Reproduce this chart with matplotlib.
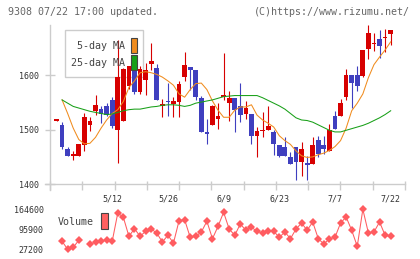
import numpy as np
import matplotlib
matplotlib.use("Agg")
import matplotlib.pyplot as plt
from matplotlib.patches import Rectangle

plt.rcParams["font.family"] = ["DejaVu Sans Mono"]

# 日足データ (index 0..60)
opens = [1517, 1509, 1465, 1451, 1451, 1471, 1509, 1535, 1538, 1544,
         1555, 1499, 1517, 1581, 1617, 1570, 1592, 1621, 1613, 1543,
         1553, 1548, 1552, 1597, 1615, 1610, 1558, 1496, 1509, 1520,
         1560, 1550, 1558, 1544, 1529, 1529, 1488, 1497, 1499, 1495,
         1471, 1468, 1449, 1468, 1440, 1439, 1437, 1482, 1472, 1460,
         1526, 1525, 1560, 1601, 1601, 1599, 1648, 1658, 1667, 1669, 1676]
highs = [1518, 1515, 1469, 1460, 1474, 1531, 1524, 1564, 1543, 1549,
         1560, 1665, 1614, 1617, 1617, 1617, 1623, 1660, 1621, 1556,
         1586, 1560, 1589, 1643, 1615, 1610, 1562, 1520, 1546, 1549,
         1641, 1572, 1558, 1587, 1553, 1529, 1505, 1532, 1544, 1500,
         1471, 1486, 1459, 1468, 1477, 1452, 1486, 1489, 1489, 1511,
         1534, 1557, 1612, 1601, 1618, 1647, 1693, 1678, 1684, 1685, 1684]
lows = [1517, 1464, 1451, 1445, 1451, 1461, 1497, 1528, 1512, 1526,
        1503, 1439, 1517, 1575, 1565, 1566, 1564, 1610, 1554, 1523,
        1526, 1524, 1523, 1589, 1574, 1555, 1495, 1474, 1509, 1502,
        1555, 1517, 1495, 1515, 1520, 1474, 1449, 1486, 1499, 1454,
        1449, 1451, 1436, 1407, 1414, 1408, 1437, 1450, 1456, 1460,
        1501, 1525, 1555, 1541, 1572, 1597, 1630, 1645, 1632, 1643, 1656]
closes = [1518, 1469, 1451, 1456, 1474, 1523, 1517, 1546, 1529, 1528,
          1507, 1597, 1612, 1617, 1570, 1612, 1611, 1627, 1554, 1548,
          1551, 1553, 1585, 1619, 1610, 1561, 1495, 1493, 1543, 1526,
          1564, 1558, 1537, 1528, 1541, 1488, 1498, 1499, 1506, 1474,
          1451, 1451, 1436, 1440, 1465, 1435, 1472, 1456, 1465, 1500,
          1501, 1549, 1601, 1587, 1581, 1647, 1678, 1660, 1655, 1671, 1684]

ma5 = [np.nan, 1555, 1530, 1503, 1482, 1474, 1475, 1486, 1503, 1518,
       1530, 1537, 1552, 1578, 1590, 1605, 1607, 1605, 1602, 1597,
       1590, 1582, 1566, 1560, 1574, 1585, 1586, 1574, 1553, 1536,
       1523, 1523, 1536, 1542, 1542, 1546, 1527, 1518, 1512, 1505,
       1489, 1480, 1473, 1461, 1452, 1449, 1450, 1454, 1457, 1462,
       1469, 1480, 1503, 1535, 1549, 1566, 1596, 1620, 1634, 1647, 1662]
ma25 = [np.nan, 1555, 1549, 1543, 1540, 1537, 1534, 1532, 1530, 1528,
        1529, 1532, 1535, 1537, 1538, 1538, 1540, 1542, 1543, 1545,
        1546, 1546, 1545, 1543, 1545, 1549, 1551, 1553, 1555, 1558,
        1561, 1562, 1563, 1563, 1563, 1563, 1563, 1559, 1554, 1549,
        1544, 1538, 1530, 1522, 1518, 1517, 1514, 1509, 1504, 1499,
        1496, 1496, 1499, 1502, 1505, 1508, 1512, 1517, 1522, 1528, 1535]

volume = [np.nan, 54700, 27200, 34100, 58100, np.nan, 45400, 51200, 54700, 60200,
          54700, 151900, 137100, 71900, 98000, 71900, 89000, 96900, 83200, 52300,
          75300, 48800, 125400, 128900, 68400, 71900, 86600, 123400, 63600, 106200,
          154300, 96900, 75300, 114100, 92500, 102800, 89000, 83200, 89000, 89000,
          68400, 86600, 63600, 96900, 117500, 92500, 121000, 63600, 45400, 63600,
          68400, 117500, 138200, 92500, 37500, 164600, 83200, 86600, 121000, 75300, 71900]

date_idx = [10, 20, 30, 40, 50, 60]
date_labels = ["5/12", "5/26", "6/9", "6/23", "7/7", "7/22"]
price_ticks = [1400, 1500, 1600]
vol_ticks = [27200, 95900, 164600]

UP = "#d70000"
DOWN = "#3f3fbf"
GRID = "#cccccc"
TXT = "#333333"

W, H = 420, 259
fig = plt.figure(figsize=(W / 100, H / 100), dpi=100)


def fx(x):
    return x / W


def fy(y):
    return 1 - y / H


# 株価
ax = fig.add_axes([fx(50), fy(190), fx(355), 165 / H])
ax.set_facecolor("none")
x = np.arange(len(closes))
o = np.array(opens)
c = np.array(closes)
colors = [UP if cc >= oo else DOWN for oo, cc in zip(o, c)]
ax.vlines(x, lows, highs, colors=colors, linewidth=0.8, zorder=2)
body_h = np.maximum(np.abs(c - o), 2)
ax.bar(x, body_h, bottom=np.minimum(o, c), width=0.85, color=colors,
       linewidth=0, zorder=2)
ax.plot(x, ma5, color="#f08c1e", linewidth=0.75, zorder=3)
ax.plot(x, ma25, color="#18a018", linewidth=0.75, zorder=3)

ax.set_xlim(-1.17, 62.57)
ax.set_ylim(1389, 1693)
for s in ["top", "right", "bottom"]:
    ax.spines[s].set_visible(False)
ax.spines["left"].set_color(GRID)
ax.spines["left"].set_linewidth(1.0)
ax.axhline(1400, xmin=-5 / 355, xmax=1, color=GRID, linewidth=1.0,
           clip_on=False, zorder=1)
ax.set_yticks(price_ticks)
ax.set_yticklabels([str(t) for t in price_ticks])
ax.tick_params(axis="y", direction="inout", length=7.2, width=1.0,
               color=GRID, labelsize=6, labelcolor=TXT, pad=4)
ax.set_xticks(date_idx)
ax.set_xticklabels(date_labels)
ax.tick_params(axis="x", length=0, labelsize=6, labelcolor=TXT, pad=3.5)
xl = ax.get_xlim()
ax.set_xticks([xl[0] + (xl[1] - xl[0]) * k / 11 for k in range(12)], minor=True)
ax.tick_params(axis="x", which="minor", direction="in", length=6.5,
               width=1.0, color=GRID)

# 凡例
ax.add_patch(Rectangle((fx(65), fy(77)), fx(78), 47 / H, transform=fig.transFigure,
                       facecolor="white", edgecolor=GRID, linewidth=1.0,
                       zorder=0.5, clip_on=False))
ax.text(fx(125), fy(46), "5-day MA", transform=fig.transFigure, ha="right",
        va="center", fontsize=7.2, color="#444444", zorder=4)
ax.text(fx(125), fy(63), "25-day MA", transform=fig.transFigure, ha="right",
        va="center", fontsize=7.2, color="#444444", zorder=4)
ax.add_patch(Rectangle((fx(131), fy(53)), fx(6), 15 / H, transform=fig.transFigure,
                       facecolor="#f08c1e", edgecolor="#444444", linewidth=0.8,
                       zorder=4, clip_on=False))
ax.add_patch(Rectangle((fx(131), fy(70)), fx(6), 15 / H, transform=fig.transFigure,
                       facecolor="#18a018", edgecolor="#444444", linewidth=0.8,
                       zorder=4, clip_on=False))

# 出来高
vax = fig.add_axes([fx(50), fy(256), fx(355), 56 / H])
vax.set_facecolor("none")
vax.plot(x, volume, color="#ff5c60", linewidth=0.75, marker="D",
         markersize=4.2, markeredgewidth=0)
vax.set_xlim(-1.17, 62.57)
vax.set_ylim(4185, 196550)
for s in vax.spines.values():
    s.set_visible(False)
vax.set_xticks([])
vax.set_yticks(vol_ticks)
vax.set_yticklabels([str(t) for t in vol_ticks])
vax.tick_params(axis="y", length=0, labelsize=6, labelcolor=TXT, pad=4.5)
fig.text(fx(58), fy(222), "Volume", ha="left", va="center", fontsize=7.2,
         color="#444444")
fig.patches.append(Rectangle((fx(101), fy(229)), fx(7), 16 / H,
                             transform=fig.transFigure, facecolor="#ff6060",
                             edgecolor="#444444", linewidth=0.8))

fig.text(fx(8), fy(12), "9308 07/22 17:00 updated.", ha="left", va="center",
         fontsize=7.2, color="#666666")
fig.text(fx(410), fy(12), "(C)https://www.rizumu.net/", ha="right", va="center",
         fontsize=7.2, color="#666666")

fig.savefig("out.png", dpi=100)
